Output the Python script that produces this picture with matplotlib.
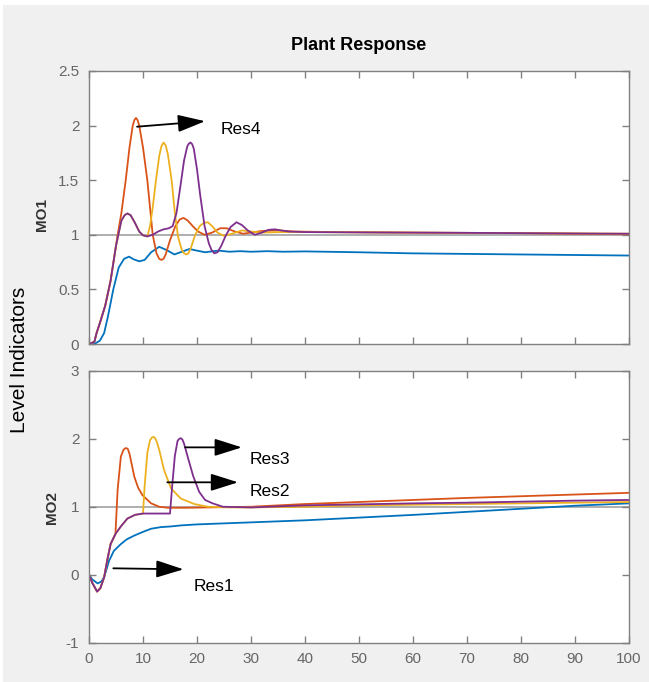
import matplotlib
matplotlib.use('Agg')
import matplotlib.pyplot as plt
from matplotlib.patches import Rectangle

plt.rcParams['font.family'] = ['Liberation Sans', 'DejaVu Sans']
plt.rcParams['axes.unicode_minus'] = False

# MATLAB default line colours
c_blue = '#0072BD'
c_orange = '#D95319'
c_yellow = '#EDB120'
c_purple = '#7E2F8E'

ref_level = 1.0

# ---- MO1 (top panel) ----
mo1_blue_t = [0, 1, 2, 2.8, 3.5, 4.5, 5.5, 6.5, 7.4, 8.3, 9.3, 10.3, 11.5, 13, 14.4, 15.8, 17.2,
              18.6, 20, 21.5, 23, 24, 26, 28, 30, 33, 36, 40, 50, 60, 70, 80, 90, 100]
mo1_blue_v = [0, 0, 0.03, 0.1, 0.25, 0.5, 0.7, 0.78, 0.80, 0.775, 0.757, 0.77, 0.84, 0.89, 0.86, 0.82, 0.845,
              0.87, 0.855, 0.84, 0.85, 0.855, 0.845, 0.85, 0.845, 0.85, 0.845, 0.848, 0.84, 0.83, 0.825, 0.82, 0.815, 0.81]

mo1_orange_t = [0, 1, 1.4, 2, 3, 4, 5, 5.3, 6, 6.8, 7.5, 8.1, 8.4, 8.7, 9.0, 9.3, 10, 10.8, 11.3, 11.8, 12.5,
                13.0, 13.4, 13.8, 14.2, 15, 16, 16.8, 17.5, 18.3, 19.2, 20.2, 21.4, 22.8, 24.3, 25.5, 27, 28.5,
                30, 32, 35, 38, 45, 60, 80, 100]
mo1_orange_v = [0, 0.02, 0.1, 0.19, 0.35, 0.58, 0.9, 1.0, 1.2, 1.5, 1.8, 2.0, 2.05, 2.07, 2.05, 2.0, 1.8, 1.5,
                1.25, 1.0, 0.83, 0.78, 0.77, 0.78, 0.82, 0.95, 1.08, 1.14, 1.155, 1.13, 1.08, 1.03, 1.0, 1.02,
                1.06, 1.06, 1.03, 1.01, 1.02, 1.035, 1.04, 1.03, 1.025, 1.02, 1.015, 1.005]

mo1_yellow_t = [0, 1, 1.4, 2, 3, 4, 5, 6, 6.6, 7.1, 7.7, 8.5, 9.3, 10, 10.8, 11.3, 11.8, 12.4, 13.0, 13.4,
                13.8, 14.2, 14.6, 15.3, 15.9, 16.5, 17.2, 17.6, 18.0, 18.4, 18.8, 19.6, 20.5, 21.3, 22.0, 22.8,
                23.8, 25.0, 26.5, 28.3, 30, 32, 36, 40, 60, 80, 100]
mo1_yellow_v = [0, 0.02, 0.1, 0.19, 0.35, 0.58, 0.9, 1.13, 1.18, 1.195, 1.18, 1.11, 1.03, 0.995, 0.985, 1.08,
                1.25, 1.5, 1.72, 1.81, 1.845, 1.82, 1.74, 1.5, 1.2, 0.98, 0.86, 0.83, 0.82, 0.83, 0.87, 0.99,
                1.08, 1.11, 1.115, 1.08, 1.02, 0.99, 1.01, 1.04, 1.03, 1.02, 1.025, 1.025, 1.02, 1.015, 1.01]

mo1_purple_t = [0, 1, 1.4, 2, 3, 4, 5, 6, 6.6, 7.1, 7.7, 8.5, 9.3, 10, 10.8, 11.8, 12.8, 13.8, 14.8, 15.5,
                16.2, 17.0, 17.6, 18.2, 18.5, 18.8, 19.1, 19.4, 20.0, 20.6, 21.4, 22.2, 22.7, 23.2, 23.8, 24.5,
                25.3, 26.2, 27.3, 28.3, 29.4, 30.7, 32.0, 33.2, 34.4, 35.6, 37.0, 40, 50, 60, 70, 80, 90, 100]
mo1_purple_v = [0, 0.02, 0.1, 0.19, 0.35, 0.58, 0.9, 1.13, 1.18, 1.195, 1.18, 1.11, 1.03, 0.995, 0.985, 1.0,
                1.03, 1.05, 1.06, 1.08, 1.2, 1.47, 1.68, 1.81, 1.835, 1.845, 1.83, 1.79, 1.6, 1.36, 1.08, 0.92,
                0.86, 0.83, 0.84, 0.9, 0.99, 1.07, 1.115, 1.09, 1.04, 1.0, 1.02, 1.045, 1.05, 1.04, 1.03, 1.025,
                1.022, 1.02, 1.018, 1.015, 1.012, 1.01]

# ---- MO2 (bottom panel) ----
mo2_blue_t = [0, 0.6, 1.6, 2.3, 2.8, 3.7, 4.6, 5.9, 7, 8.4, 10, 11.5, 13.3, 15.2, 17, 20, 30, 40, 50, 60,
              70, 80, 90, 100]
mo2_blue_v = [0, -0.07, -0.13, -0.1, -0.04, 0.2, 0.35, 0.45, 0.52, 0.576, 0.63, 0.676, 0.70, 0.71, 0.725, 0.74,
              0.77, 0.80, 0.84, 0.88, 0.925, 0.97, 1.015, 1.05]

mo2_orange_t = [0, 0.6, 1.5, 2.1, 2.8, 3.4, 4.0, 4.9, 5.3, 5.9, 6.4, 6.7, 6.9, 7.2, 7.5, 8.4, 9.1, 9.9, 11.5,
                13, 14.6, 18, 22, 30, 40, 50, 60, 70, 80, 90, 100]
mo2_orange_v = [0, -0.12, -0.25, -0.2, -0.04, 0.22, 0.45, 0.6, 1.25, 1.74, 1.84, 1.86, 1.865, 1.85, 1.78, 1.44,
                1.28, 1.17, 1.05, 1.0, 0.985, 0.985, 0.99, 1.0, 1.04, 1.07, 1.1, 1.13, 1.155, 1.18, 1.205]

mo2_yellow_t = [0, 0.6, 1.5, 2.1, 2.8, 3.4, 4.0, 4.9, 5.9, 7.1, 8.5, 10.0, 10.3, 10.8, 11.3, 11.65, 11.95,
                12.25, 12.5, 13.0, 13.9, 15.2, 17, 19.5, 22, 26, 30, 40, 50, 60, 70, 80, 90, 100]
mo2_yellow_v = [0, -0.12, -0.25, -0.2, -0.04, 0.22, 0.45, 0.6, 0.71, 0.825, 0.88, 0.9, 1.3, 1.79, 1.98, 2.02,
                2.03, 2.01, 1.97, 1.84, 1.54, 1.27, 1.12, 1.04, 1.0, 0.99, 0.99, 1.0, 1.02, 1.03, 1.04, 1.05,
                1.06, 1.07]

mo2_purple_t = [0, 0.6, 1.5, 2.1, 2.8, 3.4, 4.0, 4.9, 5.9, 7.1, 8.5, 10.0, 12, 15.0, 15.4, 15.9, 16.4, 16.7,
                17.0, 17.3, 17.6, 18.4, 19.3, 20.4, 21.5, 22.9, 24.8, 30, 40, 50, 60, 70, 80, 90, 100]
mo2_purple_v = [0, -0.12, -0.25, -0.2, -0.04, 0.22, 0.45, 0.6, 0.71, 0.825, 0.88, 0.9, 0.9, 0.9, 1.3, 1.75,
                1.97, 2.0, 2.01, 1.99, 1.93, 1.7, 1.45, 1.22, 1.1, 1.05, 1.0, 0.99, 1.02, 1.035, 1.05, 1.06,
                1.075, 1.09, 1.10]

x_ticks = list(range(0, 101, 10))
mo1_yticks = [0, 0.5, 1, 1.5, 2, 2.5]
mo1_ylabels = ['0', '0.5', '1', '1.5', '2', '2.5']
mo2_yticks = [-1, 0, 1, 2, 3]

W, H = 649, 682
fig = plt.figure(figsize=(W / 100, H / 100), dpi=100, facecolor='white')
fig.patches.append(Rectangle((3 / W, 0), 1, 1 - 5 / H, transform=fig.transFigure,
                             facecolor='#f0f0f0', edgecolor='none', zorder=-10))

ax1 = fig.add_axes([89 / W, 1 - 344 / H, 540 / W, 273 / H])
ax2 = fig.add_axes([89 / W, 1 - 642.5 / H, 540 / W, 271.5 / H])

lw = 1.3
ax1.axhline(ref_level, color='#a8a8a8', lw=1.3, zorder=1)
ax1.plot(mo1_blue_t, mo1_blue_v, color=c_blue, lw=lw)
ax1.plot(mo1_orange_t, mo1_orange_v, color=c_orange, lw=lw)
ax1.plot(mo1_yellow_t, mo1_yellow_v, color=c_yellow, lw=lw)
ax1.plot(mo1_purple_t, mo1_purple_v, color=c_purple, lw=lw)

ax2.axhline(ref_level, color='#a8a8a8', lw=1.3, zorder=1)
ax2.plot(mo2_blue_t, mo2_blue_v, color=c_blue, lw=lw)
ax2.plot(mo2_orange_t, mo2_orange_v, color=c_orange, lw=lw)
ax2.plot(mo2_yellow_t, mo2_yellow_v, color=c_yellow, lw=lw)
ax2.plot(mo2_purple_t, mo2_purple_v, color=c_purple, lw=lw)

for ax in (ax1, ax2):
    ax.set_xlim(0, 100)
    ax.set_xticks(x_ticks)
    ax.tick_params(direction='in', length=5, width=1, color='#808080', labelcolor='#666666',
                   labelsize=11, top=True, right=True, pad=7)
    for sp in ax.spines.values():
        sp.set_color('#808080')
        sp.set_linewidth(1)

ax1.set_ylim(0, 2.5)
ax1.set_yticks(mo1_yticks)
ax1.set_yticklabels(mo1_ylabels)
ax1.set_xticklabels([])
ax2.set_ylim(-1, 3)
ax2.set_yticks(mo2_yticks)

arrow = dict(arrowstyle='-|>,head_length=1.2,head_width=0.38', color='black', lw=1.3,
             mutation_scale=14, shrinkA=0, shrinkB=0)
ax1.annotate('', xy=(21.5, 2.04), xytext=(8.9, 1.99), arrowprops=arrow)
ax1.text(24.3, 1.96, 'Res4', fontsize=12.5, va='center', ha='left')

ax2.annotate('', xy=(28.3, 1.875), xytext=(17.8, 1.875), arrowprops=arrow)
ax2.text(29.8, 1.69, 'Res3', fontsize=12.5, va='center', ha='left')
ax2.annotate('', xy=(27.6, 1.36), xytext=(14.5, 1.36), arrowprops=arrow)
ax2.text(29.8, 1.22, 'Res2', fontsize=12.5, va='center', ha='left')
ax2.annotate('', xy=(17.5, 0.078), xytext=(4.5, 0.093), arrowprops=arrow)
ax2.text(19.3, -0.17, 'Res1', fontsize=12.5, va='center', ha='left')

fig.text(359 / W, 1 - 45 / H, 'Plant Response', fontsize=13, fontweight='bold', ha='center', va='center')
fig.text(42 / W, 1 - 215 / H, 'MO1', fontsize=11, fontweight='bold', color='#333333',
         rotation=90, ha='center', va='center')
fig.text(52 / W, 1 - 507 / H, 'MO2', fontsize=11, fontweight='bold', color='#333333',
         rotation=90, ha='center', va='center')
fig.text(20 / W, 1 - 360 / H, 'Level Indicators', fontsize=15, rotation=90, ha='center', va='center')

fig.savefig('out.png', dpi=100, facecolor=fig.get_facecolor())
